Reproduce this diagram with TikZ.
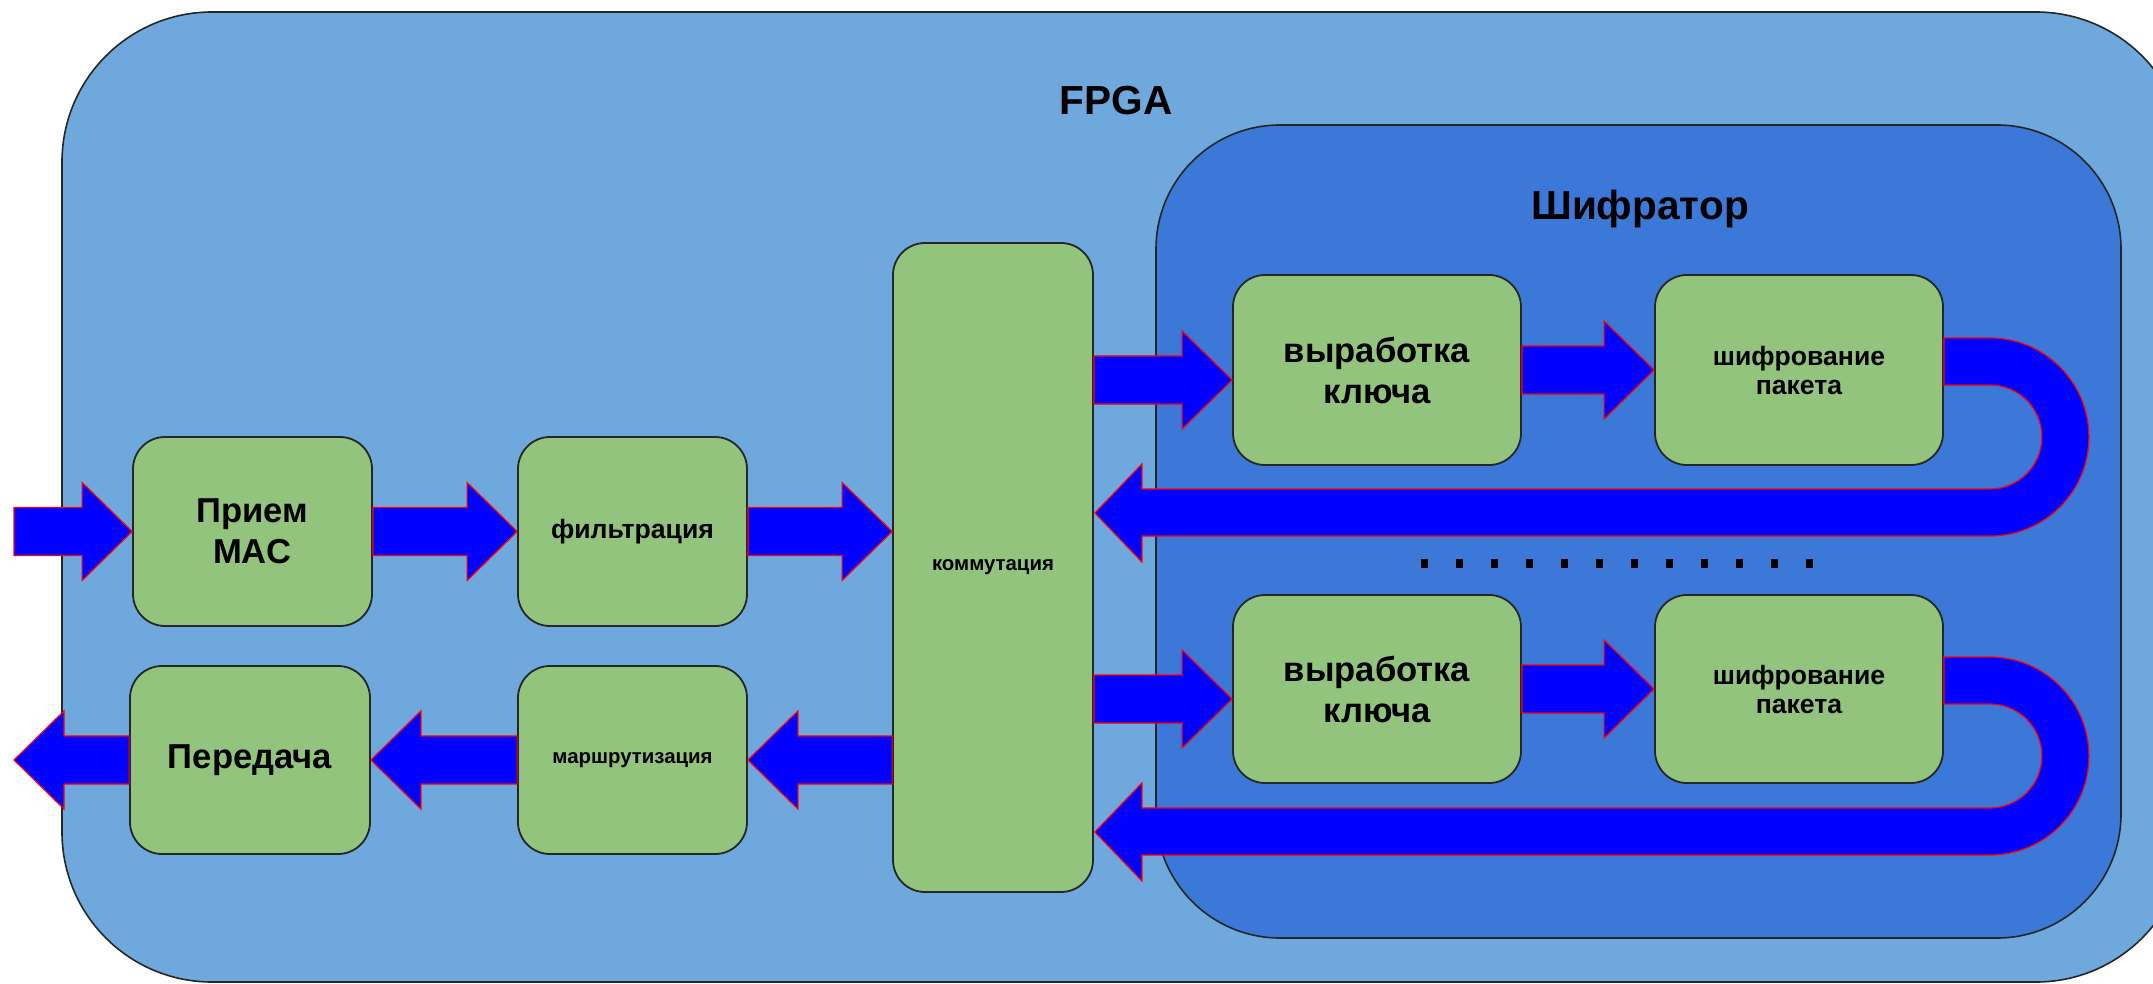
\documentclass[tikz,border=0pt]{standalone}
\usepackage{fontspec}
\setmainfont{Liberation Sans}
\usetikzlibrary{calc}
\definecolor{fpgablue}{HTML}{6FA8DC}
\definecolor{encblue}{HTML}{3C78D8}
\definecolor{boxgreen}{HTML}{93C47D}
\definecolor{arrblue}{HTML}{0000FF}
\definecolor{arrred}{HTML}{FF0000}
\tikzset{
  region/.style={draw=black!85, line width=0.8pt},
  blk/.style={draw=black!85, line width=0.9pt, fill=boxgreen, rounded corners=16pt, align=center, inner sep=0pt},
  bigtxt/.style={font=\fontsize{17.3}{20.5}\selectfont\bfseries},
  midtxt/.style={font=\fontsize{13.3}{14.5}\selectfont\bfseries},
  smalltxt/.style={font=\fontsize{10.2}{12}\selectfont\bfseries},
  titletxt/.style={font=\fontsize{20.3}{23}\selectfont\bfseries, inner sep=0pt},
  barrow/.style={fill=arrblue, draw=arrred, line width=0.6pt, line join=miter},
}
% straight block arrow: #1 start (x used), #2 tip (x,y), #3 direction 1 right / -1 left
\newcommand{\harrow}[3]{%
  \path[barrow] let \p1=(#1), \p2=(#2) in
    (\x1,{\y2+12pt}) -- ({\x2-(#3)*25pt},{\y2+12pt}) -- ({\x2-(#3)*25pt},{\y2+24.5pt})
    -- (\x2,\y2) -- ({\x2-(#3)*25pt},{\y2-24.5pt}) -- ({\x2-(#3)*25pt},{\y2-12pt})
    -- (\x1,{\y2-12pt}) -- cycle;}
% U-turn block arrow from the east side of #1 back to the east side of #2
\newcommand{\uturnarrow}[2]{%
  \path[barrow] let \p1=(#1.east), \p2=(#2.east) in
    (\x1,{\y1+16pt}) -- ({\x1+23pt},{\y1+16pt})
    arc[start angle=90, end angle=-90, radius=49.5pt]
    -- ({\x2+24pt},{\y1-83pt}) -- ({\x2+24pt},{\y1-96pt}) -- ({\x2+0.5pt},{\y1-71.5pt})
    -- ({\x2+24pt},{\y1-47pt}) -- ({\x2+24pt},{\y1-59.5pt}) -- ({\x1+23pt},{\y1-59.5pt})
    arc[start angle=-90, end angle=90, radius=26pt]
    -- (\x1,{\y1-7.5pt}) -- cycle;}
\begin{document}
\begin{tikzpicture}[x=0.5pt,y=0.5pt]
\useasboundingbox (0,0) rectangle (2153,-984);
\fill[white] (0,0) rectangle (2153,-984);
\clip (0,0) rectangle (2153,-984);

% outer FPGA region
\draw[region, fill=fpgablue, rounded corners=75pt] (62,-12) rectangle (2186,-982);
\node[titletxt] (fpga) at (1116,-101) {FPGA};

% encryptor region
\draw[region, fill=encblue, rounded corners=62pt] (1156,-125) rectangle (2121,-938);
\node[titletxt, anchor=base] (shifrator) at (1640,-220) {Шифратор};

% blocks
\node[blk, bigtxt, minimum width=119.5pt, minimum height=94.5pt] (priem) at (252.5,-531.5) {Прием\\MAC};
\node[blk, midtxt, minimum width=114.5pt, minimum height=94.5pt] (filtr) at (632.5,-531.5) {фильтрация};
\node[blk, bigtxt, minimum width=120pt, minimum height=94pt] (pered) at (250,-760) {Передача};
\node[blk, smalltxt, minimum width=114.5pt, minimum height=94pt] (marsh) at (632.5,-760) {маршрутизация};
\node[blk, smalltxt, minimum width=100pt, minimum height=324.5pt] (komm) at (993,-567.5) {коммутация};

\node[blk, bigtxt, minimum width=144pt, minimum height=95pt] (vyr1) at (1377,-370) {выработка\\ключа};
\node[blk, midtxt, minimum width=144pt, minimum height=95pt] (shif1) at (1799,-370) {шифрование\\пакета};
\node[blk, bigtxt, minimum width=144pt, minimum height=94pt] (vyr2) at (1377,-689) {выработка\\ключа};
\node[blk, midtxt, minimum width=144pt, minimum height=94pt] (shif2) at (1799,-689) {шифрование\\пакета};

% free ends
\coordinate (inS) at (14,-531.5);
\coordinate (outT) at (14,-760);

% arrows
\harrow{inS}{priem.west}{1}
\harrow{priem.east}{filtr.west}{1}
\harrow{filtr.east}{komm.west |- filtr.east}{1}
\harrow{komm.west}{marsh.east}{-1}
\harrow{marsh.west}{pered.east}{-1}
\harrow{pered.west}{outT}{-1}

\harrow{komm.east}{$(vyr1.west)+(0,-10)$}{1}
\harrow{vyr1.east}{shif1.west}{1}
\uturnarrow{shif1}{komm}
\harrow{komm.east}{$(vyr2.west)+(0,-10)$}{1}
\harrow{vyr2.east}{shif2.west}{1}
\uturnarrow{shif2}{komm}

% dots
\foreach \i in {0,...,11}
  \fill[black] ({1421+\i*35},-559) rectangle +(7,-9);
\end{tikzpicture}
\end{document}
